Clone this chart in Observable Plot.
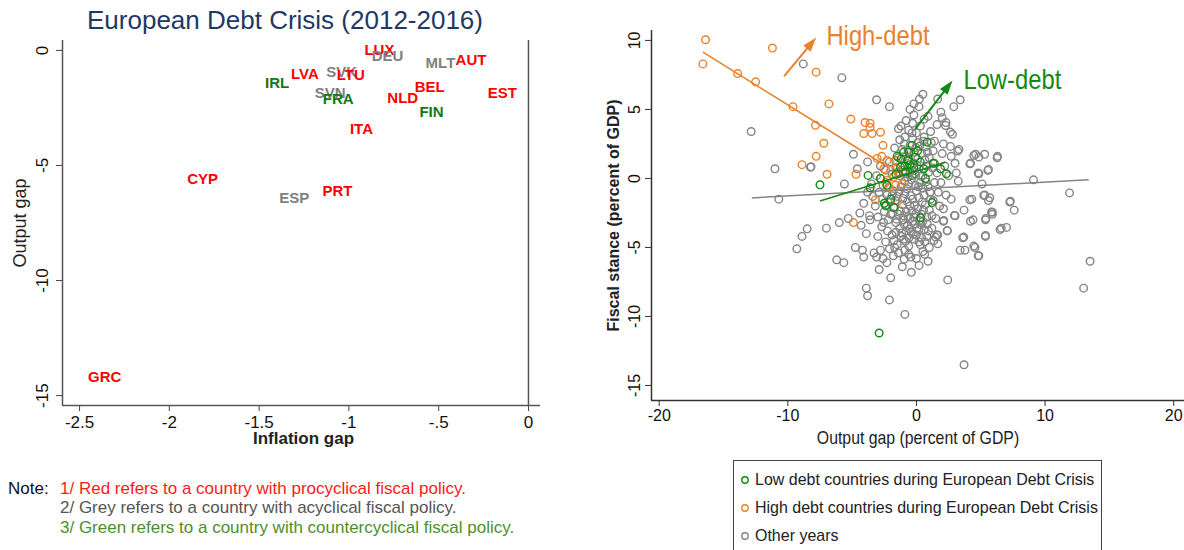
<!DOCTYPE html>
<html><head><meta charset="utf-8">
<script src="https://cdn.jsdelivr.net/npm/d3@7"></script>
<script src="https://cdn.jsdelivr.net/npm/@observablehq/plot@0.6"></script>
<style>
body{margin:0;background:#fff;width:1184px;height:550px;position:relative;overflow:hidden;font-family:"Liberation Sans",Arial,sans-serif}
.abs{position:absolute}
.note{font-size:17px;line-height:20px;white-space:nowrap}
.leg{font-family:"Liberation Sans",Arial,sans-serif;font-size:17px;color:#222;white-space:nowrap;height:28px;line-height:28px;display:flex;align-items:center}
.leg svg{margin-right:5px;flex-shrink:0}
.leg span{display:inline-block;transform:scaleX(0.94);transform-origin:left center}
</style></head><body>
<div class="abs" style="left:0;top:5px;width:570px;text-align:center;font-size:26px;color:#1f3864">European Debt Crisis (2012-2016)</div>
<div id="left" class="abs" style="left:0;top:30px"></div>
<div class="abs note" style="left:8px;top:479px;color:#111">Note:</div>
<div class="abs note" style="left:60px;top:479px;color:#ff1a1a">1/ Red refers to a country with procyclical fiscal policy.</div>
<div class="abs note" style="left:60px;top:498px;color:#555">2/ Grey refers to a country with acyclical fiscal policy.</div>
<div class="abs note" style="left:60px;top:518px;color:#4e8f2a">3/ Green refers to a country with countercyclical fiscal policy.</div>
<div id="right" class="abs" style="left:600px;top:0"></div>
<div id="legend" class="abs" style="left:733px;top:460px;width:369px;height:92px;border:1px solid #444;box-sizing:border-box;padding:5px 0 0 6px"></div>
<script>
// ---------- Left chart data ----------
const countries = ["LUX","DEU","MLT","AUT","SVK","LVA","LTU","IRL","BEL","EST","SVN","FRA","NLD","FIN","ITA","CYP","PRT","ESP","GRC"];
const inflationGap = [-0.83,-0.785,-0.49,-0.32,-1.04,-1.245,-0.99,-1.40,-0.55,-0.145,-1.105,-1.06,-0.70,-0.54,-0.93,-1.815,-1.064,-1.304,-2.36];
const outputGap = [0,-0.26,-0.54,-0.43,-0.94,-1.04,-1.07,-1.41,-1.62,-1.84,-1.88,-2.14,-2.07,-2.70,-3.42,-5.58,-6.12,-6.41,-14.21];
const policy = ["pro","a","a","pro","a","pro","pro","counter","pro","pro","a","counter","pro","counter","pro","pro","pro","a","pro"];
const policyNames = ["pro","a","counter"];
const policyColors = ["#ff0000","#808080","#107a10"];
const xTicksLeft = [-2.5,-2,-1.5,-1,-0.5,0];
const xTickLabelsLeft = ["-2.5","-2","-1.5","-1","-.5","0"];
const yTicksLeft = [0,-5,-10,-15];
const yTickLabelsLeft = ["0","-5","-10","-15"];

// ---------- Right chart data: [output gap, fiscal stance] ----------
const highDebt = [[-16.4,10.05],[-16.6,8.3],[-13.9,7.6],[-12.5,7.0],[-11.2,9.45],[-9.6,5.2],[-7.8,7.7],[-6.8,5.4],[-7.85,3.85],[-7.2,2.55],[-7.8,1.6],[-8.9,1.0],[-6.95,0.3],[-5.1,4.3],[-4.0,4.05],[-3.6,4.0],[-3.6,3.7],[-4.1,3.25],[-3.45,3.25],[-2.8,3.35],[-2.6,2.4],[-4.7,0.3],[-3.06,1.45],[-2.7,1.6],[-2.28,1.3],[-1.63,1.3],[-2.54,0.7],[-2.0,0.58],[-1.5,0.7],[-2.8,0.0],[-2.28,-0.14],[-1.77,0.1],[-1.37,0.34],[-2.15,-0.63],[-1.63,-0.5],[-1.11,-0.39],[-2.4,-0.3],[-3.2,-1.55],[-1.45,-1.65],[-4.9,-3.2]];
const lowDebt = [[-7.5,-0.46],[-3.76,0.22],[-3.6,-0.68],[-2.8,0.0],[-2.5,-1.8],[-2.0,-1.5],[-0.33,2.39],[-0.6,1.9],[-1.0,1.9],[-0.08,1.54],[-0.7,1.3],[-0.2,0.8],[0.3,1.2],[0.83,2.63],[-1.24,0.82],[-0.86,0.46],[-0.33,0.22],[0.57,0.7],[1.87,0.7],[2.33,0.34],[0.7,0.0],[1.22,-1.75],[0.31,-2.85],[-1.77,-2.1],[-2.4,-1.96],[-2.9,-11.2],[-1.5,1.6],[-1.2,1.4],[-0.9,0.9],[-0.5,1.0],[-1.6,0.3],[0.1,2.0],[-2.3,-0.5],[1.3,1.1]];
const otherYears = [[-8.8,8.3],[-5.8,7.3],[-12.85,3.4],[-3.1,5.7],[-2.1,5.2],[-11.0,0.7],[-10.7,-1.5],[-8.2,0.85],[-5.6,-0.4],[-4.9,1.75],[-4.6,0.7],[-3.8,1.2],[-6.0,-3.2],[-5.3,-2.9],[-7.0,-3.6],[-8.5,-3.65],[-1.2,3.8],[-0.3,4.0],[-0.2,5.4],[0.23,5.75],[0.5,6.1],[0.9,4.5],[1.65,5.75],[1.9,4.8],[2.9,5.2],[3.4,5.7],[2.3,4.05],[2.8,3.2],[3.3,2.1],[4.2,1.1],[4.6,1.75],[5.3,1.75],[6.3,1.6],[4.8,0.4],[5.6,0.65],[5.1,-0.4],[5.3,-1.2],[5.7,-1.4],[4.3,-1.5],[7.3,-1.65],[7.6,-2.3],[9.1,-0.1],[11.9,-1.05],[5.9,-2.45],[3.7,-2.3],[2.1,2.5],[2.7,1.6],[3.0,1.1],[3.1,0.4],[3.25,-0.2],[2.7,-1.5],[4.4,-3.0],[6.6,-3.6],[7.0,-3.55],
[-9.3,-5.1],[-8.9,-4.2],[-6.2,-5.9],[-5.65,-6.1],[-4.75,-5.0],[-4.2,-5.2],[-4.1,-5.7],[-3.9,-4.0],[-4.3,-3.4],[-3.65,-2.7],[-3.1,-5.7],[-2.9,-6.6],[-2.8,-5.2],[-2.0,-7.2],[-3.9,-7.95],[-3.8,-8.5],[-2.1,-8.8],[-0.9,-9.85],[-1.8,-5.6],[-0.96,-5.85],[-0.43,-5.7],[0.2,-6.3],[0.64,-5.5],[0.2,-4.6],[-0.58,-4.3],[0.93,-3.8],[1.65,-4.1],[1.36,-4.5],[2.1,-3.1],[2.4,-3.8],[2.43,-7.35],[3.0,-2.7],[3.6,-4.3],[3.4,-5.2],[3.77,-5.2],[4.55,-5.0],[4.8,-5.6],[5.36,-4.2],[5.4,-2.9],[5.9,-2.6],[4.2,-3.1],[13.0,-7.95],[13.5,-6.0],[3.7,-13.5],
[4.46,1.67],[4.85,1.55],[6.27,1.5],[4.15,1.06],[4.85,0.34],[5.55,0.58],[4.15,-1.55],[5.23,-1.23],[5.6,-1.6],[7.26,-1.71],[5.37,-3.0],[5.83,-2.44],[6.5,-3.7],[3.68,-4.25],[5.37,-4.13],[4.46,-4.9],[4.85,-5.6],[2.95,-2.68],[2.12,-3.04],[2.39,-3.77],[1.48,-4.25],[1.66,-4.73],[3.21,1.98],[2.64,2.32],[2.26,3.84],[2.64,3.36],[-8.24,0.82],
[-1.8,-0.9],[-1.5,-1.3],[-1.2,-0.6],[-0.9,-1.1],[-0.6,-0.4],[-0.3,-1.5],[0.0,-0.9],[0.3,-0.3],[0.6,-1.2],[0.9,-0.6],
[-1.7,-2.1],[-1.4,-2.6],[-1.1,-1.9],[-0.8,-2.4],[-0.5,-2.0],[-0.2,-2.8],[0.1,-2.2],[0.4,-2.6],[0.7,-1.9],[1.0,-2.3],
[-1.6,-3.2],[-1.3,-3.6],[-1.0,-3.0],[-0.7,-3.4],[-0.4,-3.9],[-0.1,-3.3],[0.2,-3.7],[0.5,-3.1],[-2.2,-3.0],[-2.5,-2.4],
[-2.3,-1.2],[-2.0,-1.7],[-2.6,-0.5],[-2.9,-1.0],[-3.2,-2.0],[-3.4,-1.3],[-2.7,-3.5],[-3.0,-4.2],[-2.4,-4.6],[-1.9,-4.1],
[-1.5,-4.8],[-1.0,-4.4],[-0.6,-4.9],[-0.2,-4.4],[0.3,-4.8],[0.8,-4.2],[1.2,-3.6],[1.5,-2.9],[1.3,-1.6],[1.7,-1.0],
[-1.9,0.3],[-1.6,0.8],[-1.3,0.2],[-1.0,0.6],[-0.7,0.1],[-0.4,0.9],[-0.1,0.3],[0.2,0.7],[0.5,0.2],[0.8,0.9],
[-1.4,1.5],[-1.1,2.1],[-0.8,1.6],[-0.5,2.4],[-0.2,1.9],[0.1,2.6],[0.4,1.8],[0.7,2.3],[1.0,1.5],[1.3,2.0],
[-0.9,3.0],[-0.6,3.5],[-0.3,2.9],[0.0,3.3],[0.3,3.8],[0.6,3.0],[1.1,3.4],[1.4,2.7],[-1.3,2.8],[-1.7,2.2],
[-2.1,1.2],[-2.4,0.6],[-2.8,0.9],[-3.1,0.2],[-3.5,-0.4],[-3.8,-1.0],[-4.1,-1.8],[-4.4,-2.5],[-3.6,-3.0],[-2.0,-2.6],
[1.6,0.4],[1.9,-0.3],[2.2,0.9],[2.0,1.8],[1.8,-2.0],[2.3,-1.2],[2.5,0.2],[1.6,-4.1],[2.1,-2.2],[1.4,1.1],
[-0.4,-0.1],[-0.1,-0.5],[0.2,-1.4],[-0.7,-1.7],[-1.0,-2.7],[-0.3,-3.1],[0.0,-4.1],[-0.8,-3.8],[-1.2,-4.2],[-0.5,-2.9],
[-0.2,1.1],[0.1,1.4],[-0.5,0.5],[-0.9,-0.2],[0.5,-0.7],[0.8,-2.8],[0.4,-4.3],[-1.6,-3.9],[-2.1,-5.1],[-1.4,-5.4],
[-0.9,-5.2],[0.5,-5.3],[1.0,-5.0],[-3.3,-5.4],[-2.6,-5.8],[-1.1,-6.4],[0.9,-6.0],[-0.4,-6.8],
[-0.8,4.2],[-0.2,4.6],[0.6,4.3],[-1.4,3.6],[1.6,3.9],[2.0,4.4],[-0.5,5.0],[0.2,5.2],
[-1.65,-1.6],[-1.35,-0.95],[-1.05,-1.45],[-0.75,-0.75],[-0.45,-1.25],[-0.15,-1.95],[0.15,-0.6],[0.45,-1.7],[0.75,-0.25],[1.05,-1.0],
[-1.85,-2.55],[-1.55,-2.95],[-1.25,-2.35],[-0.95,-3.35],[-0.65,-2.75],[-0.35,-2.35],[-0.05,-2.55],[0.25,-3.05],[0.55,-2.3],[0.85,-3.3],
[-1.15,-3.95],[-0.85,-4.55],[-0.55,-3.65],[-0.25,-4.05],[0.05,-3.6],[0.35,-3.35],[0.65,-4.6],[-1.75,-4.5],[-2.25,-3.8],[-2.55,-3.2],
[-1.15,0.95],[-0.85,0.35],[-0.55,1.3],[-0.25,0.55],[0.05,0.95],[0.35,0.15],[0.65,1.35],[0.95,0.45],[1.25,0.75],[-1.45,0.45],
[-0.95,2.5],[-0.65,2.05],[-0.35,3.3],[0.25,2.35],[0.55,2.7],[0.85,1.9],[1.15,2.6],[-0.05,2.25],[-2.35,-2.0],[-2.65,-1.5],
[-3.0,-2.8],[-1.9,-1.25],[1.1,-1.5],[1.4,-0.3],[1.2,-2.7],[-0.6,-5.5],[0.0,-5.8],[-1.7,-5.0],[-2.3,-6.1],[0.6,-3.7]];

// fitted lines
const fitGroup = ["other","high","low"];
const fitX1 = [-12.8,-16.6,-7.5];
const fitY1 = [-1.41,9.15,-1.64];
const fitX2 = [13.4,-2.6,2.25];
const fitY2 = [-0.1,1.05,1.18];
// annotation arrows
const arrowGroup = ["high","low"];
const arrowX1 = [-10.3,-0.1];
const arrowY1 = [7.4,3.57];
const arrowX2 = [-7.8,2.8];
const arrowY2 = [10.2,7.1];
const annotText = ["High-debt","Low-debt"];
const annotX = [-7.0,3.65];
const annotY = [10.35,7.1];
const groupNames = ["high","low","other"];
const groupColors = ["#e8822c","#128a12","#848484"];
const legendLabels = ["Low debt countries during European Debt Crisis","High debt countries during European Debt Crisis","Other years"];
const legendGroups = ["low","high","other"];
const xTicksRight = [-20,-10,0,10,20];
const yTicksRight = [-15,-10,-5,0,5,10];

function narrow(svg, cls, s) {
  svg.querySelectorAll(`.${cls} text`).forEach(t => {
    const tr = t.getAttribute("transform");
    if (tr) t.setAttribute("transform", tr + ` scale(${s},1)`);
    else {
      const x = +t.getAttribute("x") || 0, y = +t.getAttribute("y") || 0;
      t.removeAttribute("x"); t.removeAttribute("y");
      t.setAttribute("transform", `translate(${x},${y}) scale(${s},1)`);
    }
  });
}

// ---------- Left chart ----------
const xDomL = [-2.595, 0.067], yDomL = [-15.43, 0.43];
const labelRows = countries.map((c,i)=>({c, x: inflationGap[i], y: outputGap[i], p: policy[i]}));
const left = Plot.plot({
  width: 560, height: 420, marginLeft: 62, marginRight: 20, marginTop: 10, marginBottom: 45,
  style: {fontFamily: '"Liberation Sans", Arial, sans-serif', fontSize: "17px", color: "#111", background: "transparent"},
  x: {domain: xDomL},
  y: {domain: yDomL},
  color: {domain: policyNames, range: policyColors},
  marks: [
    Plot.axisX({ticks: xTicksLeft, tickFormat: d => xTickLabelsLeft[xTicksLeft.indexOf(d)], tickSize: 6, tickPadding: 4, label: null, stroke: "#444", fontSize: 17}),
    Plot.axisY({ticks: yTicksLeft, tickFormat: d => yTickLabelsLeft[yTicksLeft.indexOf(d)], tickSize: 6, tickPadding: 9, tickRotate: -90, label: null, stroke: "#444", fontSize: 17}),
    Plot.ruleX([xDomL[0]], {stroke: "#555", strokeWidth: 1.5}),
    Plot.ruleY([yDomL[0]], {stroke: "#555", strokeWidth: 1.5}),
    Plot.ruleX([0], {stroke: "#555", strokeWidth: 1.5}),
    Plot.text(labelRows, {x: "x", y: "y", text: "c", fill: "p", fontWeight: "bold", fontSize: 15}),
    Plot.text(["Inflation gap"], {frameAnchor: "bottom", dy: 33, dx: 2, textAnchor: "middle", lineAnchor: "middle", fontWeight: "bold", fontSize: 17, fill: "#222"}),
    Plot.text(["Output gap"], {frameAnchor: "left", dx: -42, rotate: -90, textAnchor: "middle", lineAnchor: "middle", fontSize: 18, fill: "#222"})
  ]
});
document.getElementById("left").appendChild(left);

// ---------- Right chart ----------
const W = 584, H = 450, ml = 51, mr = 0, mt = 30, mb = 50;
const xDomR = [-20.6, 20.84], yDomR = [-16.09, 10.72];
const kx = (W - ml - mr) / (xDomR[1] - xDomR[0]);
const ky = (H - mt - mb) / (yDomR[1] - yDomR[0]);
const pts = [
  ...otherYears.map(([x,y]) => ({x, y, g: "other"})),
  ...highDebt.map(([x,y]) => ({x, y, g: "high"})),
  ...lowDebt.map(([x,y]) => ({x, y, g: "low"}))
];
const fits = fitGroup.map((g,i)=>({g, x1: fitX1[i], y1: fitY1[i], x2: fitX2[i], y2: fitY2[i]}));
const head = 14, back = 8;
const arrows = arrowGroup.map((g,i)=>{
  const a = Math.atan2((arrowX2[i]-arrowX1[i])*kx, (arrowY2[i]-arrowY1[i])*ky);
  const s = Math.sin(a), c = Math.cos(a);
  return {g, x1: arrowX1[i], y1: arrowY1[i],
    x2: arrowX2[i] - head*0.6*s/kx, y2: arrowY2[i] - head*0.6*c/ky,
    hx: arrowX2[i] - back*s/kx, hy: arrowY2[i] - back*c/ky, rot: a*180/Math.PI};
});
const arrowHead = {draw(ctx, size){ const r = Math.sqrt(size/Math.PI); ctx.moveTo(0,-1.35*r); ctx.lineTo(0.8*r,1.05*r); ctx.lineTo(-0.8*r,1.05*r); ctx.closePath(); }};
const annots = annotText.map((t,i)=>({t, x: annotX[i], y: annotY[i], g: arrowGroup[i]}));

const right = Plot.plot({
  width: W, height: H, marginLeft: ml, marginRight: mr, marginTop: mt, marginBottom: mb,
  style: {fontFamily: '"Liberation Sans", Arial, sans-serif', fontSize: "16px", color: "#111", background: "transparent", overflow: "visible"},
  x: {domain: xDomR},
  y: {domain: yDomR},
  color: {domain: groupNames, range: groupColors},
  marks: [
    Plot.axisX({ticks: xTicksRight, tickFormat: d => String(d), tickSize: 6, tickPadding: 3, label: null, stroke: "#333", fontSize: 16}),
    Plot.axisY({ticks: yTicksRight, tickFormat: d => String(d), tickSize: 6, tickPadding: 6, tickRotate: -90, label: null, stroke: "#333", fontSize: 16}),
    Plot.ruleX([xDomR[0]], {stroke: "#333", strokeWidth: 1.5}),
    Plot.ruleY([yDomR[0]], {stroke: "#333", strokeWidth: 1.5}),
    Plot.dot(pts.filter(d=>d.g==="other"), {x: "x", y: "y", r: 3.8, stroke: "g", strokeWidth: 1.4, fill: "none"}),
    Plot.link(fits.filter(d=>d.g==="other"), {x1: "x1", y1: "y1", x2: "x2", y2: "y2", stroke: "g", strokeWidth: 1.5}),
    Plot.dot(pts.filter(d=>d.g==="high"), {x: "x", y: "y", r: 3.8, stroke: "g", strokeWidth: 1.4, fill: "none"}),
    Plot.dot(pts.filter(d=>d.g==="low"), {x: "x", y: "y", r: 3.8, stroke: "g", strokeWidth: 1.4, fill: "none"}),
    Plot.link(fits.filter(d=>d.g!=="other"), {x1: "x1", y1: "y1", x2: "x2", y2: "y2", stroke: "g", strokeWidth: 1.6}),
    Plot.link(arrows, {x1: "x1", y1: "y1", x2: "x2", y2: "y2", stroke: "g", strokeWidth: 2}),
    Plot.dot(arrows, {x: "hx", y: "hy", rotate: "rot", symbol: arrowHead, r: 6, fill: "g", stroke: "none"}),
    Plot.text(annots, {x: "x", y: "y", text: "t", fill: "g", textAnchor: "start", fontSize: 28, className: "narrowtxt"}),
    Plot.text(["Output gap (percent of GDP)"], {frameAnchor: "bottom", dy: 38, textAnchor: "middle", lineAnchor: "middle", fontSize: 18, fill: "#222", className: "narrowlab"}),
    Plot.text(["Fiscal stance (percent of GDP)"], {frameAnchor: "left", dx: -38, rotate: -90, textAnchor: "middle", lineAnchor: "middle", fontSize: 16, fontWeight: 600, fill: "#222"})
  ]
});
narrow(right, "narrowtxt", 0.85);
narrow(right, "narrowlab", 0.88);
document.getElementById("right").appendChild(right);

// ---------- Legend ----------
const leg = document.getElementById("legend");
legendLabels.forEach((lab,i)=>{
  const col = groupColors[groupNames.indexOf(legendGroups[i])];
  const row = document.createElement("div");
  row.className = "leg";
  row.innerHTML = `<svg width="10" height="10"><circle cx="5" cy="5" r="3.2" fill="none" stroke="${col}" stroke-width="1.4"/></svg><span></span>`;
  row.querySelector("span").textContent = lab;
  leg.appendChild(row);
});
</script>
</body></html>
